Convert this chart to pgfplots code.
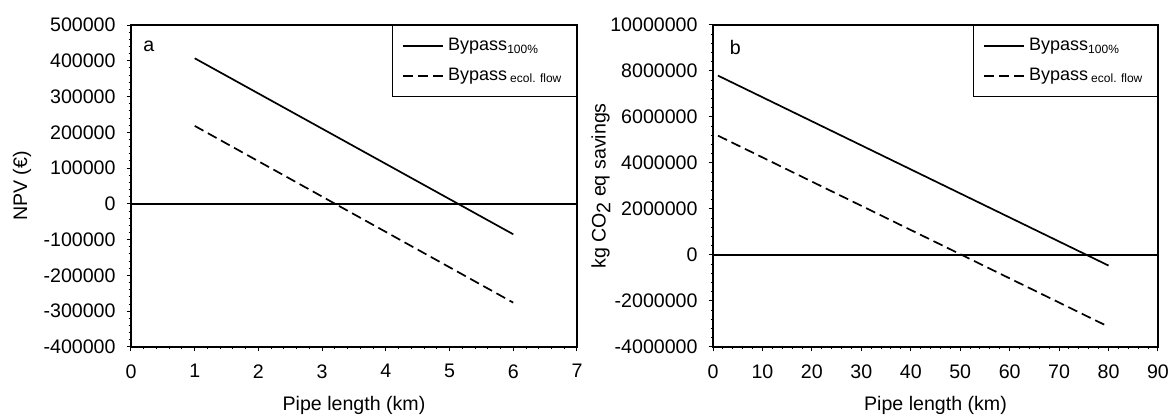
\documentclass[border=0pt]{standalone}
\usepackage{fontspec}
\setmainfont{Liberation Sans}
\usepackage{pgfplots}
\pgfplotsset{compat=1.18}

\pgfplotstableread{
x y
1 407000
6 -85000
}\npvfull
\pgfplotstableread{
x y
1 218000
6 -276000
}\npveco
\pgfplotstableread{
x y
1 7800000
80 -460000
}\cofull
\pgfplotstableread{
x y
1 5190000
80 -3120000
}\coeco

\pgfplotsset{
  panel/.style={
    scale only axis,
    width=223pt, height=161pt,
    axis line style={line width=0.6pt},
    tick align=outside,
    xtick pos=bottom, ytick pos=left,
    major tick length=2.2pt, minor tick length=1.2pt,
    every tick/.style={black, line width=0.5pt},
    minor x tick num=4, minor y tick num=4,
    font=\fontsize{9.8}{12}\selectfont,
    tick label style={font=\fontsize{9.8}{12}\selectfont},
    yticklabel style={xshift=-2pt},
    xticklabel style={yshift=-3pt},
    /pgf/number format/assume math mode=true,
    /pgf/number format/1000 sep={},
    scaled ticks=false,
    legend cell align=left,
    legend style={at={(rel axis cs:1,1)}, anchor=north east,
      draw=black, line width=0.6pt, inner xsep=5pt, inner ysep=4.5pt,
      row sep=3pt, font=\fontsize{9}{10}\selectfont},
    legend image code/.code={\draw[#1] (0pt,0pt) -- (20pt,0pt);},
    xlabel={Pipe length (km)},
    xlabel style={yshift=-2pt},
  },
  full/.style={black, line width=0.85pt, no markers},
  eco/.style={black, line width=0.85pt, no markers, dash pattern=on 5pt off 2.5pt},
}

\begin{document}
\begin{tikzpicture}
\useasboundingbox (-65.5pt,-34.5pt) rectangle (521pt,173.5pt);

% Panel a: net present value
\begin{axis}[panel,
  at={(0pt,0pt)}, anchor=south west,
  xmin=0, xmax=7, xtick={0,1,...,7},
  ymin=-400000, ymax=500000,
  ytick={-400000,-300000,-200000,-100000,0,100000,200000,300000,400000,500000},
  yticklabels={-400000,-300000,-200000,-100000,0,100000,200000,300000,400000,500000},
  ylabel={NPV (€)},
  ylabel style={at={(rel axis cs:-0.244,0.5)}, anchor=center},
]
\addplot[full] table {\npvfull};
\addlegendentry{Bypass\textsubscript{100\%}}
\addplot[eco] table {\npveco};
\addlegendentry{Bypass\,\textsubscript{ecol. flow}}
\addplot[black, line width=0.7pt, forget plot] coordinates {(0,0) (7,0)};
\node at (rel axis cs:0.04,0.935) {a};
\end{axis}

% Panel b: greenhouse gas savings
\begin{axis}[panel,
  at={(291pt,0pt)}, anchor=south west,
  width=222.5pt,
  xmin=0, xmax=90, xtick={0,10,...,90},
  ymin=-4000000, ymax=10000000,
  ytick={-4000000,-2000000,0,2000000,4000000,6000000,8000000,10000000},
  yticklabels={-4000000,-2000000,0,2000000,4000000,6000000,8000000,10000000},
  ylabel={kg CO\raisebox{-0.45ex}{2} eq savings},
  ylabel style={at={(rel axis cs:-0.252,0.5)}, anchor=center},
]
\addplot[full] table {\cofull};
\addlegendentry{Bypass\textsubscript{100\%}}
\addplot[eco] table {\coeco};
\addlegendentry{Bypass\,\textsubscript{ecol. flow}}
\addplot[black, line width=0.7pt, forget plot] coordinates {(0,0) (90,0)};
\node at (rel axis cs:0.05,0.93) {b};
\end{axis}
\end{tikzpicture}
\end{document}
